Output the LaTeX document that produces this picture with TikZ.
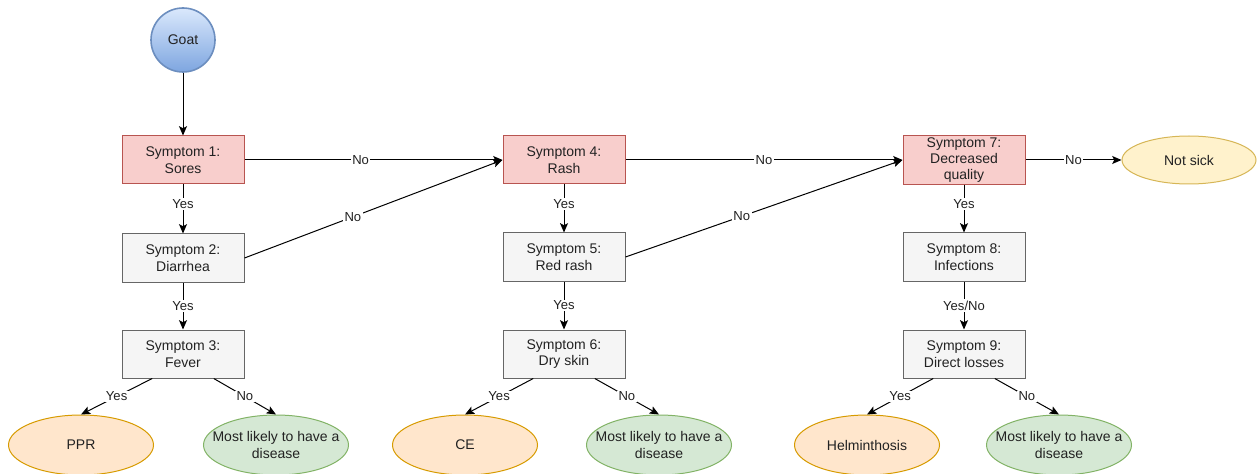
\documentclass[tikz,border=0pt]{standalone}
\usepackage{fontspec}
\setmainfont{Liberation Sans}
\usetikzlibrary{shapes.geometric,arrows.meta,calc}
\definecolor{redfill}{HTML}{F8CECC}
\definecolor{redline}{HTML}{B85450}
\definecolor{grayfill}{HTML}{F5F5F5}
\definecolor{grayline}{HTML}{666666}
\definecolor{orangefill}{HTML}{FFE6CC}
\definecolor{orangeline}{HTML}{D79B00}
\definecolor{greenfill}{HTML}{D5E8D4}
\definecolor{greenline}{HTML}{82B366}
\definecolor{yellowfill}{HTML}{FFF2CC}
\definecolor{yellowline}{HTML}{D6B656}
\definecolor{bluetop}{HTML}{DAE8FC}
\definecolor{bluebottom}{HTML}{7EA6E0}
\definecolor{blueline}{HTML}{6C8EBF}
\definecolor{inktext}{HTML}{222222}
\tikzset{
  base/.style={draw, line width=0.75pt, align=center, text=inktext,
    font=\fontsize{10.5}{12.3}\selectfont, inner sep=1pt},
  keybox/.style={base, rectangle, fill=redfill, draw=redline,
    minimum width=91.5pt, minimum height=36pt},
  plainbox/.style={base, rectangle, fill=grayfill, draw=grayline,
    minimum width=91.5pt, minimum height=36pt},
  verdict/.style={base, ellipse, minimum width=108.75pt, minimum height=45pt, inner sep=0pt},
  diag/.style={verdict, fill=orangefill, draw=orangeline},
  maybe/.style={verdict, fill=greenfill, draw=greenline},
  overtext/.style={align=center, text=inktext, font=\fontsize{10.5}{12.3}\selectfont, inner sep=0pt},
  healthy/.style={base, ellipse, fill=yellowfill, draw=yellowline,
    minimum width=100.5pt, minimum height=36pt, inner sep=0pt},
  start/.style={base, circle, draw=blueline, line width=1.2pt, top color=bluetop,
    bottom color=bluebottom, minimum size=48pt, inner sep=0pt},
  flow/.style={line width=0.75pt, draw=black, -{Stealth[length=7pt,width=6pt,inset=1.5pt]}},
  tag/.style={fill=white, text=inktext, inner sep=1pt, font=\fontsize{9.8}{11}\selectfont}
}
\begin{document}
\begin{tikzpicture}[x=0.75pt, y=-0.75pt]
\useasboundingbox (0,0) rectangle (1257,474);

% start node
\node[start] (goat) at (183,40) {Goat};

% first branch: symptoms 1-3
\node[keybox]   (s1) at (183,160) {Symptom 1:\\Sores};
\node[plainbox] (s2) at (183,258) {Symptom 2:\\Diarrhea};
\node[plainbox] (s3) at (183,354) {Symptom 3:\\Fever};
\node[diag]  (ppr)  at (81,445)  {PPR};
\node[maybe] (dis1) at (276,445) {};
\node[overtext] (dis1t) at (dis1) {Most likely to have a\\disease};

% second branch: symptoms 4-6
\node[keybox]   (s4) at (564,160) {Symptom 4:\\Rash};
\node[plainbox] (s5) at (564,257) {Symptom 5:\\Red rash};
\node[plainbox] (s6) at (564,354) {Symptom 6:\\Dry skin};
\node[diag]  (ce)   at (465,445) {CE};
\node[maybe] (dis2) at (659,445) {};
\node[overtext] (dis2t) at (dis2) {Most likely to have a\\disease};

% third branch: symptoms 7-9
\node[keybox]   (s7) at (964,160) {Symptom 7:\\Decreased\\quality};
\node[plainbox] (s8) at (964,257) {Symptom 8:\\Infections};
\node[plainbox] (s9) at (964,354) {Symptom 9:\\Direct losses};
\node[diag]  (hel)  at (867,445)  {Helminthosis};
\node[maybe] (dis3) at (1059,445) {};
\node[overtext] (dis3t) at (dis3) {Most likely to have a\\disease};
\node[healthy] (ok) at (1189,160) {Not sick};

% connectors
\draw[flow] (goat) -- (s1);

\draw[flow] (s1) -- node[tag, pos=0.4] {Yes} (s2);
\draw[flow] (s2) -- node[tag] {Yes} (s3);
\draw[flow] ($(s3.south)!0.5!(s3.south west)$) -- node[tag] {Yes} (ppr.north);
\draw[flow] ($(s3.south)!0.5!(s3.south east)$) -- node[tag] {No} (dis1.north);
\draw[flow] (s1.east) -- node[tag, pos=0.45] {No} (s4.west);
\draw[flow] (s2.east) -- node[tag, pos=0.42] {No} (s4.west);

\draw[flow] (s4) -- node[tag, pos=0.4] {Yes} (s5);
\draw[flow] (s5) -- node[tag] {Yes} (s6);
\draw[flow] ($(s6.south)!0.5!(s6.south west)$) -- node[tag] {Yes} (ce.north);
\draw[flow] ($(s6.south)!0.5!(s6.south east)$) -- node[tag] {No} (dis2.north);
\draw[flow] (s4.east) -- node[tag] {No} (s7.west);
\draw[flow] (s5.east) -- node[tag, pos=0.42] {No} (s7.west);

\draw[flow] (s7) -- node[tag, pos=0.4] {Yes} (s8);
\draw[flow] (s8) -- node[tag] {Yes/No} (s9);
\draw[flow] ($(s9.south)!0.5!(s9.south west)$) -- node[tag] {Yes} (hel.north);
\draw[flow] ($(s9.south)!0.5!(s9.south east)$) -- node[tag] {No} (dis3.north);
\draw[flow] (s7.east) -- node[tag] {No} (ok.west);
\end{tikzpicture}
\end{document}
